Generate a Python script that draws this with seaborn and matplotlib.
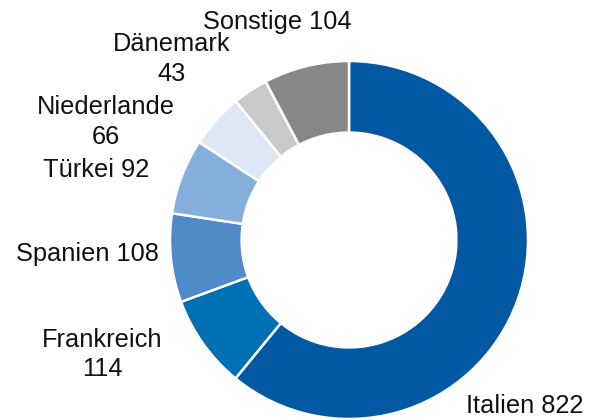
import matplotlib
matplotlib.use("Agg")
import matplotlib.pyplot as plt
import seaborn as sns

laender = ["Italien", "Frankreich", "Spanien", "Türkei", "Niederlande", "Dänemark", "Sonstige"]
werte = [822, 114, 108, 92, 66, 43, 104]
etiketten = ["Italien 822", "Frankreich\n114", "Spanien 108", "Türkei 92",
             "Niederlande\n66", "Dänemark\n43", "Sonstige 104"]
farben = ["#0358A3", "#0070B5", "#4F8BC8", "#86B0DC", "#DDE7F5", "#C9C9C9", "#878787"]

# label positions in data coords (pie radius = 1)
label_pos = [(0.98, -0.93), (-1.38, -0.64), (-1.46, -0.08), (-1.41, 0.39),
             (-1.36, 0.66), (-0.99, 1.01), (-0.40, 1.22)]

sns.set_theme(style="white")
plt.rcParams["font.family"] = ["Liberation Sans", "DejaVu Sans"]

fig = plt.figure(figsize=(5.95, 4.2), dpi=100)
cx, cy, r = 349, 180, 179
ax = fig.add_axes([(cx - r) / 595, (cy - r) / 420, 2 * r / 595, 2 * r / 420])

ax.pie(werte, colors=sns.color_palette(farben), startangle=90, counterclock=False,
       radius=1, wedgeprops=dict(width=0.4, edgecolor="white", linewidth=1.8))

for text, (x, y) in zip(etiketten, label_pos):
    ax.text(x, y, text, ha="center", va="center", fontsize=18.3, color="#111111",
            linespacing=1.3)

ax.set_xlim(-1, 1)
ax.set_ylim(-1, 1)
ax.set_aspect("equal")
ax.axis("off")

fig.savefig("out.png", dpi=100)
